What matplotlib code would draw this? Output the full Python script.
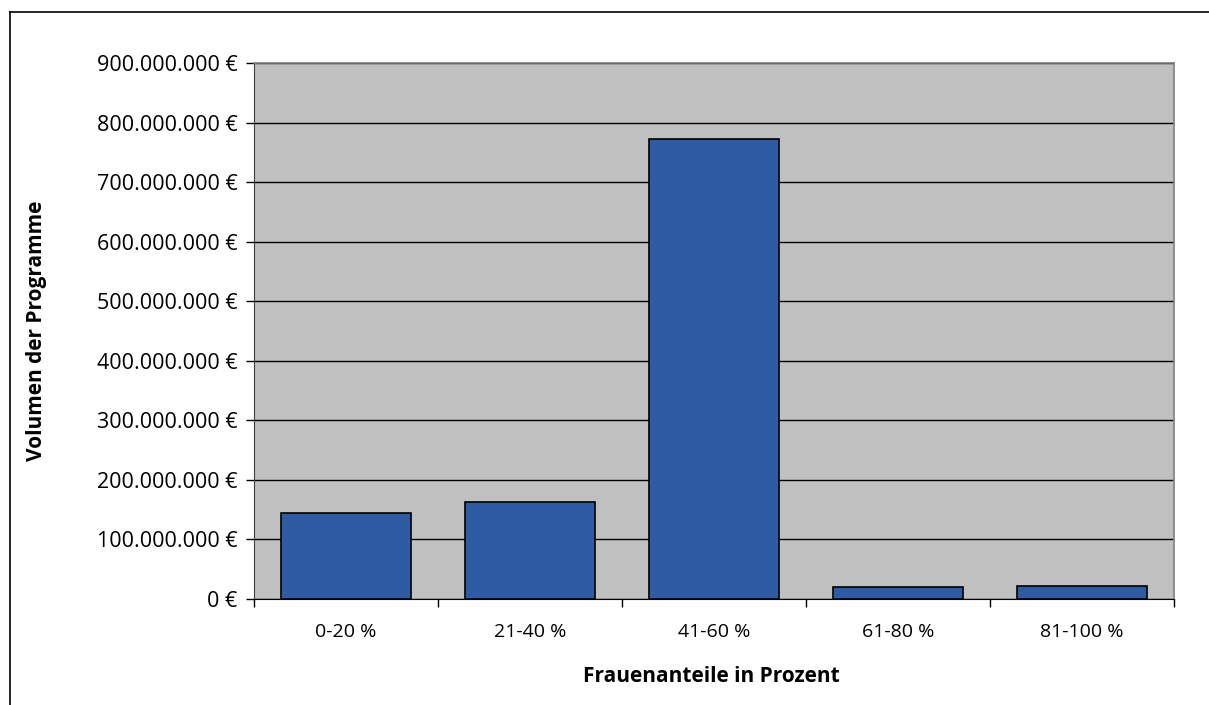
import matplotlib
matplotlib.use('Agg')
import matplotlib.pyplot as plt
from matplotlib.ticker import FuncFormatter, FixedLocator
from matplotlib.lines import Line2D

plt.rcParams['font.family'] = ['Open Sans', 'DejaVu Sans']

categories = ['0-20 %', '21-40 %', '41-60 %', '61-80 %', '81-100 %']
volumes = [144_000_000, 163_000_000, 773_000_000, 20_000_000, 22_000_000]
y_ticks = list(range(0, 900_000_001, 100_000_000))


def euro(v, pos=None):
    return f"{int(v):,}".replace(",", ".") + " €"


fig = plt.figure(figsize=(12.09, 7.05), dpi=100)
ax = fig.add_axes([254 / 1209, 1 - 599 / 705, (1174 - 254) / 1209, (599 - 63) / 705])

ax.set_facecolor('#C0C0C0')
ax.set_axisbelow(True)
ax.yaxis.grid(True, color='black', linewidth=1.0)

x = list(range(len(categories)))
ax.bar(x, volumes, width=0.71, color='#2F5BA3', edgecolor='black', linewidth=1.2, zorder=3)

ax.set_xlim(-0.5, len(categories) - 0.5)
ax.set_ylim(0, 900_000_000)
ax.yaxis.set_major_locator(FixedLocator(y_ticks))
ax.yaxis.set_major_formatter(FuncFormatter(euro))

# category labels between boundary ticks, like Excel
ax.set_xticks([i + 0.5 for i in range(-1, len(categories))])
ax.set_xticklabels([])
ax.set_xticks(x, minor=True)
ax.set_xticklabels(categories, minor=True)
ax.tick_params(axis='x', which='major', direction='out', length=6, width=1, color='black')
ax.tick_params(axis='x', which='minor', length=0, pad=17, labelsize=14)
ax.tick_params(axis='y', direction='out', length=6, width=1, color='black', pad=6, labelsize=15.5)

for side in ['top', 'right']:
    ax.spines[side].set_color('#808080')
    ax.spines[side].set_linewidth(1.2)
ax.spines['left'].set_color('#404040')
ax.spines['bottom'].set_color('black')

fig.text(37 / 1209, 1 - 331 / 705, 'Volumen der Programme', rotation=90,
         ha='center', va='center', fontsize=15, fontweight='bold')
fig.text(711 / 1209, 1 - 676 / 705, 'Frauenanteile in Prozent',
         ha='center', va='center', fontsize=15, fontweight='bold')

# outer chart frame: top and left edges only
fig.add_artist(Line2D([10 / 1209, 1.0], [1 - 12 / 705, 1 - 12 / 705], transform=fig.transFigure,
                      color='black', linewidth=1.2))
fig.add_artist(Line2D([10 / 1209, 10 / 1209], [0.0, 1 - 12 / 705], transform=fig.transFigure,
                      color='black', linewidth=1.2))

fig.savefig('out.png', dpi=100, facecolor='white')
